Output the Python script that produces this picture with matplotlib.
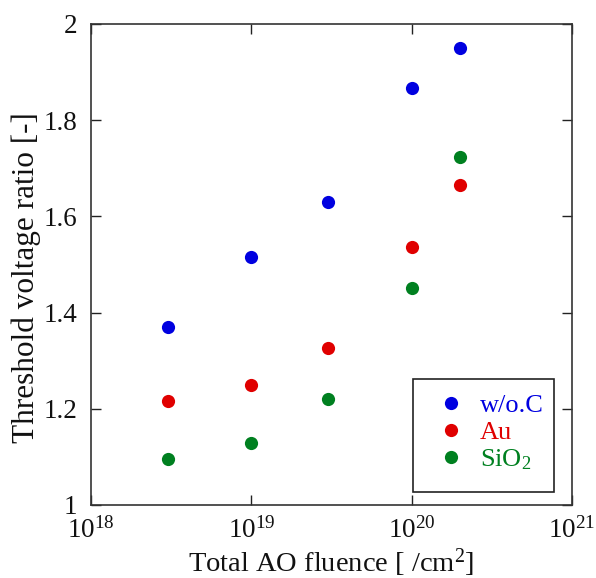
import math
import matplotlib
matplotlib.use("Agg")
import matplotlib.pyplot as plt
from matplotlib.patches import Rectangle
from matplotlib.ticker import FixedLocator, NullLocator, FuncFormatter

plt.rcParams['font.family'] = ['Liberation Serif', 'DejaVu Serif']
plt.rcParams['mathtext.fontset'] = 'custom'
plt.rcParams['mathtext.rm'] = 'Liberation Serif'
plt.rcParams['mathtext.it'] = 'Liberation Serif:italic'

fluence = [3e18, 1e19, 3e19, 1e20, 2e20]
wo_c = [1.371, 1.516, 1.629, 1.866, 1.950]
au = [1.216, 1.249, 1.326, 1.537, 1.666]
sio2 = [1.095, 1.128, 1.220, 1.452, 1.723]

series_names = ['w/o.C', 'Au', r'SiO$_2$']
series_colors = ['#0000e0', '#e00000', '#008020']

xticks = [1e18, 1e19, 1e20, 1e21]
yticks = [1.0, 1.2, 1.4, 1.6, 1.8, 2.0]

fig = plt.figure(figsize=(5.96, 5.78), dpi=100)
ax = fig.add_axes([0.1527, 0.1263, 0.8070, 0.8322])

for vals, name, col in zip([wo_c, au, sio2], series_names, series_colors):
    ax.plot(fluence, vals, linestyle='none', marker='o', markersize=9.5,
            color=col, markeredgewidth=0, label=name)

ax.set_xscale('log')
ax.set_xlim(1e18, 1e21)
ax.set_ylim(1.0, 2.0)
ax.xaxis.set_major_locator(FixedLocator(xticks))
ax.xaxis.set_minor_locator(NullLocator())
ax.xaxis.set_major_formatter(FuncFormatter(lambda v, p: r'$10^{%d}$' % round(math.log10(v))))
ax.yaxis.set_major_locator(FixedLocator(yticks))
ax.yaxis.set_major_formatter(FuncFormatter(lambda v, p: ('%g' % v)))

ax.tick_params(direction='in', length=7, width=1.0, top=True, right=True,
               labelsize=19.5, colors='#222222', labelcolor='#111111')
ax.tick_params(axis='y', pad=10)
ax.tick_params(axis='x', pad=9)
for s in ax.spines.values():
    s.set_linewidth(1.2)
    s.set_color('#333333')

ax.set_xlabel(r'Total AO fluence [ /cm$^2$]', fontsize=20.5, color='#111111', labelpad=2)
ax.set_ylabel('Threshold voltage ratio [-]', fontsize=22.5, color='#111111')
ax.yaxis.set_label_coords(-0.104, 0.473)

# legend frame (drawn separately so that padding matches the original)
frame = Rectangle((0.6694, 0.027), 0.9626 - 0.6694, 0.262 - 0.027,
                  transform=ax.transAxes, facecolor='white', edgecolor='#222222',
                  linewidth=1.2, zorder=4)
ax.add_patch(frame)

leg = ax.legend(loc='upper left', fontsize=19, frameon=False,
                borderpad=0, handletextpad=0.59, labelspacing=0.12,
                handlelength=1.0, bbox_to_anchor=(0.7214, 0.2308),
                borderaxespad=0)
leg.set_zorder(5)
for t, col in zip(leg.get_texts(), series_colors):
    t.set_color(col)

fig.savefig('out.png', dpi=100)
